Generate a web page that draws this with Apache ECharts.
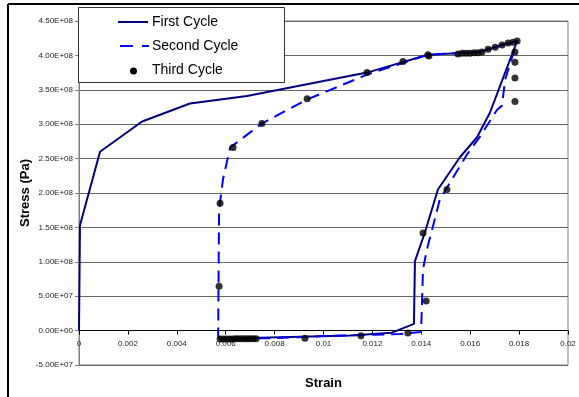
<!DOCTYPE html>
<html>
<head>
<meta charset="utf-8">
<script src="https://cdn.jsdelivr.net/npm/echarts@6/dist/echarts.min.js"></script>
<style>
html,body{margin:0;padding:0;background:#fff;}
#chart{width:579px;height:397px;}
</style>
</head>
<body>
<div id="chart"></div>
<script>
// ---- data ----
var seriesNames = ['First Cycle', 'Second Cycle', 'Third Cycle'];

var firstStrain = [0, 0.00004, 0.00086, 0.00258, 0.00454, 0.00687, 0.01178, 0.01427, 0.0164, 0.01673, 0.0173, 0.01792,
  0.01681, 0.01628, 0.01558, 0.01468, 0.01415, 0.01374, 0.0137, 0.0128, 0.0111, 0.00577];
var firstStress = [0, 1.53e8, 2.60e8, 3.04e8, 3.30e8, 3.41e8, 3.75e8, 4.01e8, 4.05e8, 4.09e8, 4.15e8, 4.21e8,
  3.17e8, 2.81e8, 2.52e8, 2.05e8, 1.43e8, 1.01e8, 0.97e7, -0.3e7, -0.7e7, -1.2e7];

var secondStrain = [0.00577, 0.00569, 0.00573, 0.00589, 0.00618, 0.00748, 0.00933, 0.01178, 0.01427, 0.0164, 0.0173, 0.01792,
  0.01743, 0.0173, 0.0171, 0.0164, 0.01587, 0.01517, 0.01476, 0.01448, 0.01423, 0.01407, 0.01399,
  0.01313, 0.012, 0.00998, 0.00798, 0.00577];
var secondStress = [-1.2e7, -0.8e7, 1.76e8, 2.2e8, 2.66e8, 3.01e8, 3.36e8, 3.72e8, 4.01e8, 4.05e8, 4.15e8, 4.21e8,
  3.65e8, 3.27e8, 3.21e8, 2.82e8, 2.56e8, 2.15e8, 1.91e8, 1.52e8, 1.18e8, 0.89e8, -0.2e7,
  -0.5e7, -0.6e7, -0.8e7, -1.1e7, -1.2e7];

var thirdStrain = [0.00577, 0.00573,
  0.00577, 0.00589, 0.00601, 0.00614, 0.00626, 0.00638, 0.0065, 0.00663, 0.00675, 0.00687, 0.00699, 0.00712, 0.00724,
  0.00924, 0.01153, 0.01345, 0.0142, 0.01407, 0.01505,
  0.01783, 0.01783, 0.01783, 0.01783,
  0.01431, 0.01427, 0.0155, 0.01567, 0.01583, 0.01599, 0.01616, 0.01632, 0.01648, 0.01673, 0.01702, 0.0173, 0.01755, 0.01775, 0.01792,
  0.00933, 0.01178, 0.01325, 0.0063, 0.00748];
var thirdStress = [1.85e8, 6.45e7,
  -1.22e7, -1.22e7, -1.22e7, -1.21e7, -1.21e7, -1.2e7, -1.2e7, -1.2e7, -1.19e7, -1.19e7, -1.18e7, -1.18e7, -1.17e7,
  -1.1e7, -0.75e7, -0.35e7, 0.43e8, 1.42e8, 2.05e8,
  3.33e8, 3.67e8, 3.9e8, 4.05e8,
  3.99e8, 4.01e8, 4.02e8, 4.03e8, 4.03e8, 4.03e8, 4.04e8, 4.04e8, 4.05e8, 4.09e8, 4.12e8, 4.15e8, 4.18e8, 4.19e8, 4.21e8,
  3.37e8, 3.75e8, 3.91e8, 2.66e8, 3.01e8];

var yMin = -5e7, yMax = 4.5e8, yStep = 5e7;

function pairs(xs, ys){ return xs.map(function(x,i){ return [x, ys[i]]; }); }

function sci(v){
  if (v === 0) return '0.00E+00';
  var s = Math.abs(v).toExponential(2).toUpperCase(); // e.g. 4.50E+8
  var parts = s.split('E');
  var exp = parseInt(parts[1], 10);
  var es = (exp < 0 ? '-' : '+') + (Math.abs(exp) < 10 ? '0' : '') + Math.abs(exp);
  return (v < 0 ? '-' : '') + parts[0] + 'E' + es;
}

var FONT = '"Liberation Sans", Arial, sans-serif';
var W = 579, H = 397, GL = 79, GR = 11, GT = 21, GB = 32;
var gridH = H - GT - GB;
// distance from the grid bottom up to the zero line (so the x axis sits on stress = 0)
var zeroOffset = gridH * (0 - yMin) / (yMax - yMin);

var chart = echarts.init(document.getElementById('chart'), null, {renderer: 'canvas'});

chart.setOption({
  animation: false,
  backgroundColor: '#fff',
  grid: {left: GL, right: GR, top: GT, bottom: GB, show: true, borderColor: '#808080', borderWidth: 1,
    backgroundColor: 'transparent', containLabel: false, outerBoundsMode: 'none'},
  xAxis: {
    type: 'value', min: 0, max: 0.02, interval: 0.002,
    position: 'bottom', offset: -zeroOffset,
    name: 'Strain', nameLocation: 'middle', nameGap: 46, nameMoveOverlap: false,
    nameTextStyle: {fontFamily: FONT, fontSize: 13, fontWeight: 'bold', color: '#000'},
    axisLine: {onZero: false, lineStyle: {color: '#000', width: 1}},
    axisTick: {show: true, length: 4, lineStyle: {color: '#000'}},
    axisLabel: {fontFamily: FONT, fontSize: 8, color: '#222', margin: 9,
      formatter: function(v){ return String(Number(v.toFixed(4))); }},
    splitLine: {show: false}
  },
  yAxis: {
    type: 'value', min: yMin, max: yMax, interval: yStep,
    name: 'Stress (Pa)', nameLocation: 'middle', nameGap: 47, nameMoveOverlap: false,
    nameTextStyle: {fontFamily: FONT, fontSize: 13, fontWeight: 'bold', color: '#000'},
    axisLine: {show: true, onZero: false, lineStyle: {color: '#808080', width: 1}},
    axisTick: {show: true, length: 4, lineStyle: {color: '#808080'}},
    axisLabel: {fontFamily: FONT, fontSize: 8, color: '#222', margin: 6, formatter: sci},
    splitLine: {show: true, lineStyle: {color: '#666', width: 1}}
  },
  series: [
    {name: seriesNames[0], type: 'line', data: pairs(firstStrain, firstStress), showSymbol: false, symbol: 'none',
      lineStyle: {color: '#000080', width: 2}, z: 3},
    {name: seriesNames[1], type: 'line', data: pairs(secondStrain, secondStress), showSymbol: false, symbol: 'none',
      lineStyle: {color: '#0000ff', width: 2, type: [12, 7]}, z: 4},
    {name: seriesNames[2], type: 'scatter', data: pairs(thirdStrain, thirdStress), symbol: 'circle', symbolSize: 7,
      itemStyle: {color: '#000'}, z: 5}
  ],
  graphic: [
    {type: 'line', z: 100, shape: {x1: 8, y1: 4, x2: 579, y2: 4}, style: {stroke: '#000', lineWidth: 2}},
    {type: 'line', z: 100, shape: {x1: 8, y1: 4, x2: 8, y2: 397}, style: {stroke: '#000', lineWidth: 2}},
    {type: 'rect', z: 100, shape: {x: 78.5, y: 7.5, width: 206, height: 75}, style: {fill: '#fff', stroke: '#333', lineWidth: 1}},
    {type: 'line', z: 101, shape: {x1: 118, y1: 22, x2: 148, y2: 22}, style: {stroke: '#000080', lineWidth: 2}},
    {type: 'line', z: 101, shape: {x1: 120, y1: 46, x2: 149, y2: 46}, style: {stroke: '#0000ff', lineWidth: 2, lineDash: [13, 9]}},
    {type: 'circle', z: 101, shape: {cx: 133.5, cy: 71, r: 3.5}, style: {fill: '#000'}},
    {type: 'text', z: 101, x: 152, y: 22, style: {text: seriesNames[0], font: '14px ' + FONT, fill: '#000', textVerticalAlign: 'middle', verticalAlign: 'middle'}},
    {type: 'text', z: 101, x: 152, y: 46, style: {text: seriesNames[1], font: '14px ' + FONT, fill: '#000', textVerticalAlign: 'middle', verticalAlign: 'middle'}},
    {type: 'text', z: 101, x: 152, y: 70, style: {text: seriesNames[2], font: '14px ' + FONT, fill: '#000', textVerticalAlign: 'middle', verticalAlign: 'middle'}}
  ]
});
</script>
</body>
</html>
